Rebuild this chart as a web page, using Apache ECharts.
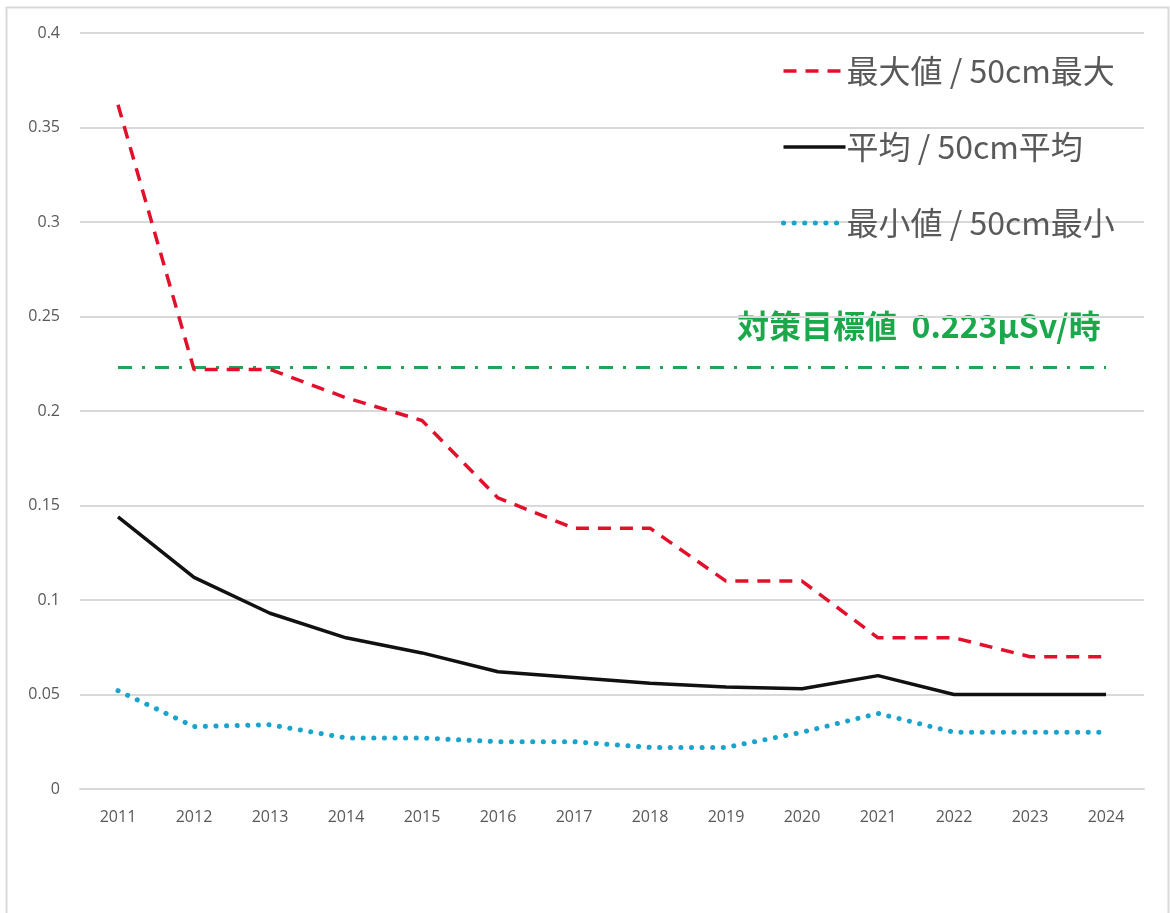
<!DOCTYPE html>
<html><head><meta charset="utf-8">
<script src="https://cdn.jsdelivr.net/npm/echarts@6/dist/echarts.min.js"></script>
<style>html,body{margin:0;padding:0;background:#fff;}#c{width:1170px;height:913px;}</style>
</head><body><div id="c"></div>
<script>
const years = ['2011','2012','2013','2014','2015','2016','2017','2018','2019','2020','2021','2022','2023','2024'];
const maxVals  = [0.362,0.222,0.222,0.207,0.195,0.154,0.138,0.138,0.110,0.110,0.080,0.080,0.070,0.070];
const meanVals = [0.144,0.112,0.093,0.080,0.072,0.062,0.059,0.056,0.054,0.053,0.060,0.050,0.050,0.050];
const minVals  = [0.052,0.033,0.034,0.027,0.027,0.025,0.025,0.022,0.022,0.030,0.040,0.030,0.030,0.030];
const targetVals = [0.223,0.223,0.223,0.223,0.223,0.223,0.223,0.223,0.223,0.223,0.223,0.223,0.223,0.223];
const yTicks = [0,0.05,0.1,0.15,0.2,0.25,0.3,0.35,0.4];
const names = ['最大値 / 50cm最大','平均 / 50cm平均','最小値 / 50cm最小'];
const targetLabel = '対策目標値  0.223μSv/時';

const chart = echarts.init(document.getElementById('c'), null, {renderer:'canvas'});
const font = '"Noto Sans CJK JP","Noto Sans",sans-serif';
const styles = [
  {color:'#e3102c', width:3.5, type:[13,9]},
  {color:'#111111', width:3.5, type:'solid'},
  {color:'#1aa3cc', width:5, cap:'round', type:[0.1,10.5]}
];
chart.setOption({
  animation:false,
  backgroundColor:'#fff',
  textStyle:{fontFamily:font},
  graphic:[
    {type:'rect', shape:{x:6.5,y:7.5,width:1162,height:930}, style:{fill:'none',stroke:'#d9d9d9',lineWidth:2}, silent:true, z:-1},
    {type:'text', left:737, top:310, style:{text:targetLabel, fill:'#1aa84a', font:'bold 32px '+font}}
  ],
  grid:{left:80,right:26,top:33,bottom:124,containLabel:false},
  legend:{
    orient:'vertical', left:776, top:50, itemWidth:62, itemHeight:14, itemGap:44,
    data:names.map((n,i)=>({name:n, lineStyle:Object.assign({},styles[i])})),
    itemStyle:{opacity:0},
    textStyle:{color:'#595959', fontSize:32, fontFamily:font, padding:[0,0,0,-4]}
  },
  xAxis:{
    type:'category', data:years, boundaryGap:true,
    axisLine:{show:true,lineStyle:{color:'#d9d9d9',width:2}},
    axisTick:{show:false},
    axisLabel:{color:'#595959',fontSize:16,margin:20,fontFamily:'"Open Sans","Noto Sans",sans-serif'}
  },
  yAxis:{
    type:'value', min:0, max:0.4, interval:0.05,
    axisLine:{show:false}, axisTick:{show:false},
    axisLabel:{color:'#595959',fontSize:16,margin:20,fontFamily:'"Open Sans","Noto Sans",sans-serif',
      formatter:v=>{const t=yTicks.find(x=>Math.abs(x-v)<1e-9);return String(t!==undefined?t:v);}},
    splitLine:{lineStyle:{color:'#d9d9d9',width:2}}
  },
  series:[
    {name:'target', type:'line', data:targetVals, symbol:'none', silent:true,
      lineStyle:{color:'#21a556', width:3, type:[14,10,3,10]}, z:1},
    {name:names[0], type:'line', data:maxVals, symbol:'none',
      lineStyle:styles[0], itemStyle:{color:styles[0].color}, z:3},
    {name:names[1], type:'line', data:meanVals, symbol:'none',
      lineStyle:styles[1], itemStyle:{color:styles[1].color}, z:3},
    {name:names[2], type:'line', data:minVals, symbol:'none',
      lineStyle:styles[2], itemStyle:{color:styles[2].color}, z:3}
  ]
});
</script></body></html>
